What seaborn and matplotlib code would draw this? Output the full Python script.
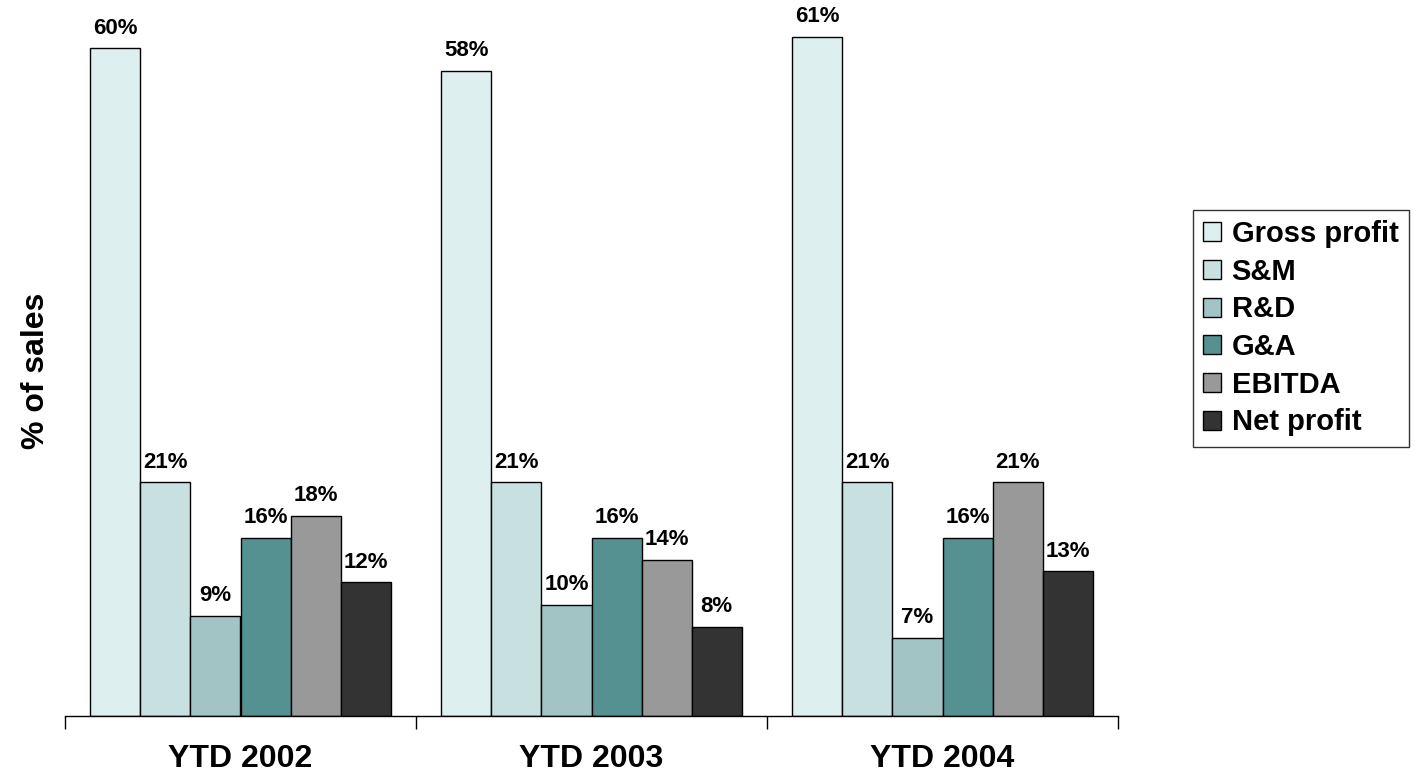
import matplotlib
matplotlib.use("Agg")
import matplotlib.pyplot as plt
import seaborn as sns
import pandas as pd
from matplotlib.ticker import FixedLocator

periods = ["YTD 2002", "YTD 2003", "YTD 2004"]
metrics = ["Gross profit", "S&M", "R&D", "G&A", "EBITDA", "Net profit"]
gross_profit = [60, 58, 61]
sm = [21, 21, 21]
rd = [9, 10, 7]
ga = [16, 16, 16]
ebitda = [18, 14, 21]
net_profit = [12, 8, 13]
colors = ["#DDEFEF", "#C8E0E0", "#A2C4C4", "#559191", "#999999", "#333333"]

series = [gross_profit, sm, rd, ga, ebitda, net_profit]
rows = []
for m, vals in zip(metrics, series):
    for p, v in zip(periods, vals):
        rows.append({"period": p, "metric": m, "value": v})
df = pd.DataFrame(rows)

sns.set_style("white")
plt.rcParams["font.family"] = ["Liberation Sans", "DejaVu Sans"]
plt.rcParams["font.weight"] = "bold"
plt.rcParams["text.color"] = "black"
plt.rcParams["axes.labelcolor"] = "black"
plt.rcParams["xtick.color"] = "black"
plt.rcParams["ytick.color"] = "black"

fig = plt.figure(figsize=(14.16, 7.78), dpi=100)
ax = fig.add_axes([65/1416, 1-716/778, (1118-65)/1416, (716-26)/778])

sns.barplot(data=df, x="period", y="value", hue="metric", hue_order=metrics,
            order=periods, palette=colors, width=0.855, edgecolor="black",
            linewidth=1.0, saturation=1, ax=ax, legend=True)

for cont in ax.containers:
    ax.bar_label(cont, labels=[f"{int(v)}%" for v in cont.datavalues],
                 padding=7, fontsize=16, fontweight="bold", color="black")

ax.set_xlim(-0.5, 2.5)
ax.set_ylim(0, 62)
ax.set_ylabel("% of sales", fontsize=23, fontweight="bold", labelpad=10, color="black")
ax.set_xlabel("")
ax.set_yticks([])
for s in ["top", "right", "left"]:
    ax.spines[s].set_visible(False)
ax.spines["bottom"].set_color("black")
ax.spines["bottom"].set_linewidth(1)
ax.tick_params(axis="x", which="major", length=0, pad=20, labelsize=23, labelcolor="black")
for lab in ax.get_xticklabels():
    lab.set_fontweight("bold")
ax.xaxis.set_minor_locator(FixedLocator([-0.5, 0.5, 1.5, 2.5]))
ax.tick_params(axis="x", which="minor", length=9, width=1, color="black", direction="out", bottom=True)

ax.get_legend().remove()
handles = [plt.Rectangle((0, 0), 1, 1, facecolor=c, edgecolor="black", linewidth=1) for c in colors]
leg = fig.legend(handles, metrics, loc="upper left",
                 bbox_to_anchor=(1193/1416, 1-210/778), frameon=True, fancybox=False,
                 prop={"size": 21, "weight": "bold"}, handlelength=0.62, handleheight=0.62,
                 handletextpad=0.35, labelspacing=0.33, borderpad=0.35, borderaxespad=0)
leg.get_frame().set_edgecolor("black")
leg.get_frame().set_linewidth(1)
for t in leg.get_texts():
    t.set_color("black")

fig.savefig("out.png", dpi=100)
